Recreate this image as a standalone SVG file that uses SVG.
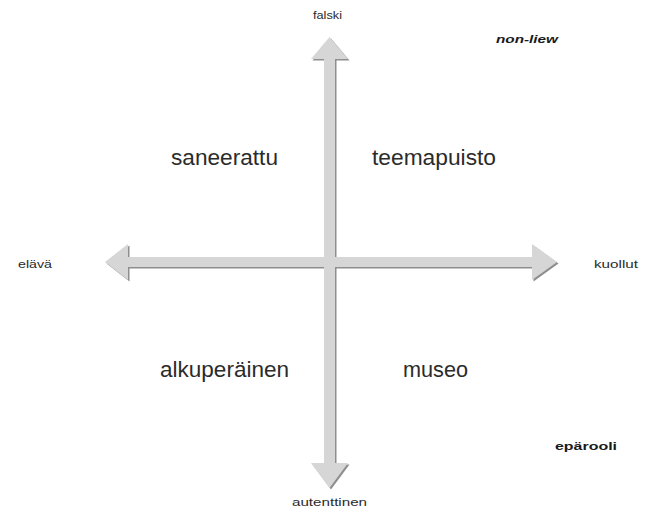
<svg xmlns="http://www.w3.org/2000/svg" width="653" height="512" viewBox="0 0 653 512">
<style>
.sh{fill:#8e8e8e}
.ar{fill:#d6d6d6}
.big{font-family:"Liberation Sans",Arial,sans-serif;font-size:22px;fill:#2b2b2b}
.sm{font-family:"Liberation Sans",Arial,sans-serif;font-size:11px;fill:#2b2b2b}
.bd{font-family:"Liberation Sans",Arial,sans-serif;font-size:11px;font-weight:bold;fill:#1a1a1a}
</style>
<rect width="653" height="512" fill="#ffffff"/>
<g id="connectors">
<polygon class="sh" transform="translate(1.5,1.5)" points="329.5,37 348,59 335,59 335,463 348,463 329.5,488 311,463 324,463 324,59 311,59"/>
<polygon class="sh" transform="translate(1.5,1.5)" points="105,262 128,244 128,257 532,257 532,244 557,262 532,280 532,267 128,267 128,280"/>
<polygon class="ar" points="329.5,37 348,59 335,59 335,463 348,463 329.5,488 311,463 324,463 324,59 311,59"/>
<polygon class="ar" points="105,262 128,244 128,257 532,257 532,244 557,262 532,280 532,267 128,267 128,280"/>
</g>
<g id="saneerattu"><text class="big" x="171" y="165" textLength="107" lengthAdjust="spacingAndGlyphs">saneerattu</text></g>
<g id="teemapuisto"><text class="big" x="372" y="165" textLength="124" lengthAdjust="spacingAndGlyphs">teemapuisto</text></g>
<g id="alkuperainen"><text class="big" x="160" y="377" textLength="129" lengthAdjust="spacingAndGlyphs">alkuperäinen</text></g>
<g id="museo"><text class="big" x="403" y="377" textLength="65" lengthAdjust="spacingAndGlyphs">museo</text></g>
<g id="falski"><text class="sm" x="313" y="19" textLength="29" lengthAdjust="spacingAndGlyphs">falski</text></g>
<g id="autenttinen"><text class="sm" x="292" y="506" textLength="75" lengthAdjust="spacingAndGlyphs">autenttinen</text></g>
<g id="elava"><text class="sm" x="18" y="268" textLength="34" lengthAdjust="spacingAndGlyphs">elävä</text></g>
<g id="kuollut"><text class="sm" x="594" y="268" textLength="44" lengthAdjust="spacingAndGlyphs">kuollut</text></g>
<g id="nonliew"><text class="bd" x="496" y="43" font-style="italic" textLength="62" lengthAdjust="spacingAndGlyphs">non-liew</text></g>
<g id="eparooli"><text class="bd" x="555" y="450" textLength="62" lengthAdjust="spacingAndGlyphs">epärooli</text></g>
</svg>
